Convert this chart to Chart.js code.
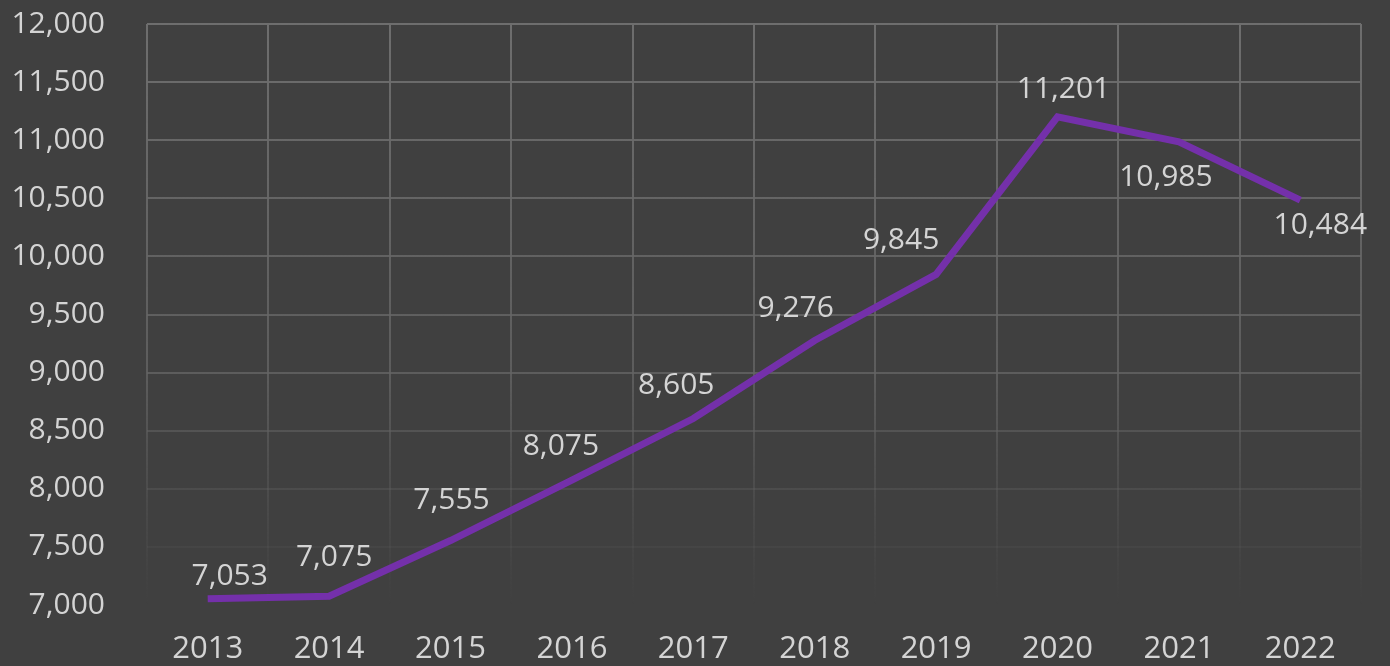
<!DOCTYPE html>
<html lang="en">
<head>
  <meta charset="UTF-8" />
  <title>Yearly Totals</title>
  <script src="https://cdn.jsdelivr.net/npm/chart.js"></script>
  <style>
    html, body { margin: 0; padding: 0; background: #404040; }
    #wrap { width: 1390px; height: 666px; }
  </style>
</head>
<body>
  <div id="wrap"><canvas id="lineChart"></canvas></div>

  <script>
    const years = ['2013', '2014', '2015', '2016', '2017', '2018', '2019', '2020', '2021', '2022'];
    const totals = [7053, 7075, 7555, 8075, 8605, 9276, 9845, 11201, 10985, 10484];
    const yTicks = [7000, 7500, 8000, 8500, 9000, 9500, 10000, 10500, 11000, 11500, 12000];

    const textColor = '#d4d4d4';
    const fontFamily = '"Open Sans", Lato, sans-serif';

    // fades the grid out toward the bottom of the plot
    function gridColor(ctx) {
      const area = ctx.chart.chartArea;
      if (!area) return '#5c5c5c';
      const g = ctx.chart.ctx.createLinearGradient(0, area.top, 0, area.bottom);
      g.addColorStop(0, 'rgba(110,110,110,1)');
      g.addColorStop(0.6, 'rgba(100,100,100,0.8)');
      g.addColorStop(1, 'rgba(90,90,90,0)');
      return g;
    }

    // value labels drawn next to each point
    const valueLabels = {
      id: 'valueLabels',
      afterDatasetsDraw(chart, args, opts) {
        const c = chart.ctx;
        const meta = chart.getDatasetMeta(0);
        c.save();
        c.font = opts.font;
        c.fillStyle = opts.color;
        c.textAlign = 'center';
        c.textBaseline = 'middle';
        meta.data.forEach((pt, i) => {
          const off = opts.offsets[i] || [0, -34];
          const v = chart.data.datasets[0].data[i];
          c.fillText(v.toLocaleString('en-US'), pt.x + off[0], pt.y + off[1]);
        });
        c.restore();
      }
    };

    new Chart(document.getElementById('lineChart'), {
      type: 'line',
      data: {
        labels: years,
        datasets: [{
          data: totals,
          borderColor: '#7430aa',
          borderWidth: 7,
          pointRadius: 0,
          tension: 0,
          fill: false
        }]
      },
      options: {
        responsive: true,
        maintainAspectRatio: false,
        animation: false,
        layout: { padding: { top: 24, left: 8, right: 29, bottom: 0 } },
        scales: {
          x: {
            offset: true,
            grid: { offset: true, color: gridColor, lineWidth: 2, drawTicks: false },
            border: { display: false },
            ticks: { color: textColor, font: { family: fontFamily, size: 31 }, padding: 26, maxRotation: 0 },
            afterFit: (scale) => { scale.height = 61; scale.paddingLeft = 0; scale.paddingRight = 0; }
          },
          y: {
            min: 7000,
            max: 12000,
            afterBuildTicks: (scale) => { scale.ticks = yTicks.map(v => ({ value: v })); },
            grid: { color: gridColor, lineWidth: 2, drawTicks: false },
            border: { display: false },
            ticks: {
              color: textColor,
              font: { family: fontFamily, size: 30 },
              padding: 42,
              callback: (v) => v.toLocaleString('en-US')
            },
            afterFit: (scale) => { scale.width = 139; scale.paddingTop = 0; scale.paddingBottom = 0; }
          }
        },
        plugins: {
          legend: { display: false },
          tooltip: { enabled: false },
          valueLabels: {
            font: '30px ' + fontFamily,
            color: textColor,
            offsets: [[22, -22], [5, -39], [1, -40], [-11, -34], [-17, -33], [-19, -32], [-35, -34], [6, -27], [-13, 36], [20, 25]]
          }
        }
      },
      plugins: [valueLabels]
    });
  </script>
</body>
</html>
